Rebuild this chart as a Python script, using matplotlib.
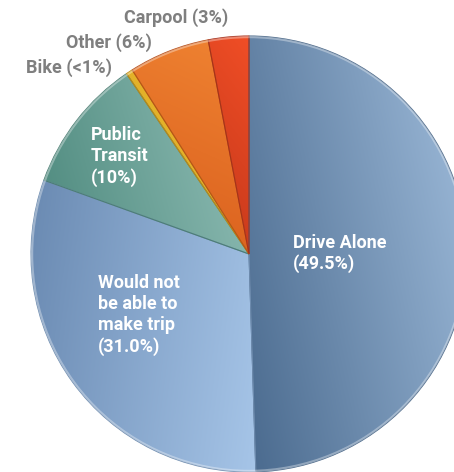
import numpy as np
import matplotlib
matplotlib.use('Agg')
import matplotlib.pyplot as plt
from matplotlib.colors import LinearSegmentedColormap

# Share of trips by mode if the service were unavailable
modes = ['Drive Alone', 'Would not be able to make trip', 'Public Transit', 'Bike', 'Other', 'Carpool']
shares = [49.5, 31.0, 10.0, 0.5, 6.0, 3.0]
label_text = ['Drive Alone\n(49.5%)',
              'Would not\nbe able to\nmake trip\n(31.0%)',
              'Public\nTransit\n(10%)',
              'Bike (<1%)',
              'Other (6%)',
              'Carpool (3%)']

# dark end / light end of each slice's shading, plus horizontal/vertical weighting
shades = [('#4a6a8e', '#a0bddc', 0.7, 0.3),
          ('#6a8ab2', '#a6c5e8', 0.85, -0.15),
          ('#4e8a7e', '#93c0b8', 0.8, 0.2),
          ('#d49a18', '#f2c83a', 0.5, 0.5),
          ('#d85c1c', '#f08432', 0.2, 0.8),
          ('#c2361a', '#f04e26', 0.2, 0.8)]
edge_colors = ['#4d6a8a', '#6f8db0', '#4c7f74', '#c08a10', '#b8501a', '#a8301a']

plt.rcParams['font.family'] = ['Roboto', 'DejaVu Sans']

fig = plt.figure(figsize=(4.54, 4.72), dpi=100)
ax = fig.add_axes([0.0683, 0.0, 0.9604, 0.9237])

wedges, _ = ax.pie(shares, startangle=90, counterclock=False, radius=1.0,
                   colors=[s[1] for s in shades])

# shaded fill clipped to each wedge
n = 200
gx, gy = np.meshgrid(np.linspace(0, 1, n), np.linspace(0, 1, n))
for w, (c0, c1, wx, wy), ec in zip(wedges, shades, edge_colors):
    ang = np.radians(np.linspace(w.theta1, w.theta2, 200))
    xs = np.concatenate([[0], np.cos(ang)])
    ys = np.concatenate([[0], np.sin(ang)])
    g = wx * gx + wy * gy
    g = (g - g.min()) / (g.max() - g.min())
    cmap = LinearSegmentedColormap.from_list('shade', [c0, c1])
    im = ax.imshow(g, cmap=cmap, origin='lower', interpolation='bicubic',
                   extent=[xs.min(), xs.max(), ys.min(), ys.max()], zorder=2)
    im.set_clip_path(w)
    w.set_facecolor('none')
    w.set_edgecolor(ec)
    w.set_linewidth(0.8)
    w.set_zorder(3)

# soft highlight on the rim
rim = plt.Circle((0, 0), 0.995, fill=False, edgecolor='white', alpha=0.35,
                 linewidth=1.6, zorder=4)
ax.add_patch(rim)

ax.set_xlim(-1, 1)
ax.set_ylim(-1, 1)
ax.set_aspect('equal')
ax.axis('off')

inside = dict(color='white', fontsize=13, fontweight='bold', ha='left',
              va='center', linespacing=1.2, zorder=5)
outside = dict(color='#7f7f7f', fontsize=13, fontweight='bold', ha='left',
               va='center', zorder=5)

ax.text(0.202, 0.002, label_text[0], **inside)
ax.text(-0.693, -0.280, label_text[1], **inside)
ax.text(-0.725, 0.447, label_text[2], **inside)
ax.text(-1.023, 0.853, label_text[3], **outside)
ax.text(-0.839, 0.968, label_text[4], **outside)
ax.text(-0.573, 1.083, label_text[5], **outside)

fig.savefig('out.png', dpi=100)
